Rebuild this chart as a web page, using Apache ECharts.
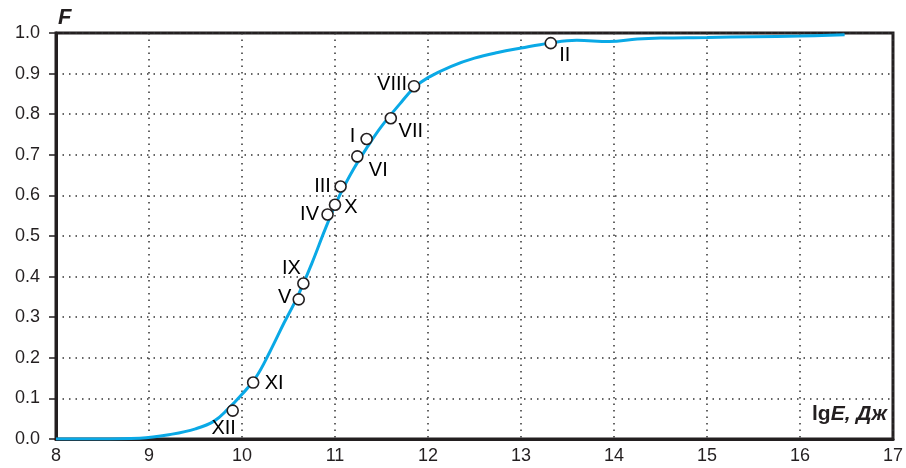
<!DOCTYPE html>
<html>
<head>
<meta charset="utf-8">
<script src="https://cdn.jsdelivr.net/npm/echarts@6/dist/echarts.min.js"></script>
<style>
  html, body { margin: 0; padding: 0; background: #fff; }
  #chart { width: 906px; height: 468px; }
</style>
</head>
<body>
<div id="chart"></div>
<script>
// Cumulative distribution F of energy lgE (J)
const curveX = [8, 8.45, 8.9, 9.25, 9.5, 9.7, 9.85, 10.0, 10.15, 10.3, 10.45, 10.6, 10.75, 10.9, 11.05, 11.2, 11.35, 11.5, 11.7, 11.85, 12.0, 12.25, 12.5, 12.75, 13.0, 13.3, 13.6, 13.95, 14.25, 14.5, 15.0, 15.5, 16.0, 16.48];
const curveF = [0, 0, 0.002, 0.012, 0.025, 0.044, 0.074, 0.11, 0.152, 0.215, 0.285, 0.352, 0.432, 0.52, 0.6, 0.665, 0.72, 0.77, 0.826, 0.865, 0.89, 0.918, 0.938, 0.952, 0.963, 0.975, 0.982, 0.979, 0.985, 0.9875, 0.989, 0.991, 0.9925, 0.9955];

// Observed events (roman numerals)
const eventNames = ['XII', 'XI', 'V', 'IX', 'IV', 'X', 'III', 'VI', 'I', 'VII', 'VIII', 'II'];
const eventX = [9.9, 10.12, 10.61, 10.66, 10.92, 11.0, 11.06, 11.24, 11.34, 11.6, 11.85, 13.32];
const eventF = [0.07, 0.139, 0.344, 0.383, 0.553, 0.577, 0.622, 0.696, 0.739, 0.79, 0.869, 0.975];

const xTicks = [8, 9, 10, 11, 12, 13, 14, 15, 16, 17];
const yTicks = [0.0, 0.1, 0.2, 0.3, 0.4, 0.5, 0.6, 0.7, 0.8, 0.9, 1.0];

// label placement around each marker, [dx, dy] in px
const labelShift = {
  XII: [-9, 18], XI: [21, 1], V: [-14, -2], IX: [-12, -15], IV: [-18, 0],
  X: [16, 3], III: [-18, 0], VI: [21, 14], I: [-14, -2], VII: [20, 13],
  VIII: [-22, -2], II: [14, 12]
};

const ink = '#231f20';
const font = 'Liberation Sans, Arial, Helvetica, sans-serif';
const dotted = { color: '#333', width: 1.5, type: [1.5, 5] };

const chart = echarts.init(document.getElementById('chart'), null, { renderer: 'canvas' });

chart.setOption({
  animation: false,
  backgroundColor: '#fff',
  grid: {
    left: 56, right: 11, top: 33, bottom: 29,
    show: true, borderColor: ink, borderWidth: 3, backgroundColor: 'transparent'
  },
  xAxis: {
    type: 'value',
    min: xTicks[0], max: xTicks[xTicks.length - 1], interval: 1,
    axisLine: { show: true, lineStyle: { color: ink, width: 3 } },
    axisTick: { show: false },
    axisLabel: { color: ink, fontSize: 18, fontFamily: font, margin: 8 },
    splitLine: { show: true, lineStyle: dotted }
  },
  yAxis: {
    type: 'value',
    min: yTicks[0], max: yTicks[yTicks.length - 1], interval: 0.1,
    name: 'F',
    nameLocation: 'end',
    nameGap: 4,
    nameTextStyle: {
      color: ink, fontSize: 22, fontWeight: 'bold', fontStyle: 'italic',
      fontFamily: font, align: 'left', padding: [0, 0, 0, 2]
    },
    axisLine: { show: true, lineStyle: { color: ink, width: 3 } },
    axisTick: { show: true, inside: false, length: 7, lineStyle: { color: ink, width: 1.5 } },
    axisLabel: {
      color: ink, fontSize: 18, fontFamily: font, margin: 16,
      formatter: v => v.toFixed(1)
    },
    splitLine: { show: true, lineStyle: dotted }
  },
  graphic: [{
    type: 'text',
    right: 19, bottom: 43,
    style: {
      text: '{a|lg}{b|E, Дж}',
      fill: ink,
      rich: {
        a: { fontSize: 21, fontWeight: 'bold', fontFamily: font, fill: ink },
        b: { fontSize: 21, fontWeight: 'bold', fontStyle: 'italic', fontFamily: font, fill: ink }
      }
    }
  }],
  series: [
    {
      type: 'line',
      data: curveX.map((x, i) => [x, curveF[i]]),
      smooth: 0.4,
      showSymbol: false,
      lineStyle: { color: '#0aa9e6', width: 3 },
      z: 2
    },
    {
      type: 'scatter',
      data: eventX.map((x, i) => ({
        name: eventNames[i],
        value: [x, eventF[i]],
        label: { offset: labelShift[eventNames[i]] }
      })),
      symbol: 'circle',
      symbolSize: 11,
      itemStyle: { color: '#fff', borderColor: ink, borderWidth: 1.6, opacity: 1 },
      emphasis: { disabled: true },
      label: {
        show: true,
        position: 'inside',
        formatter: p => p.name,
        color: '#000', fontSize: 20, fontFamily: font,
        textBorderWidth: 0, textBorderColor: 'transparent', opacity: 1
      },
      z: 3
    }
  ]
});
</script>
</body>
</html>
